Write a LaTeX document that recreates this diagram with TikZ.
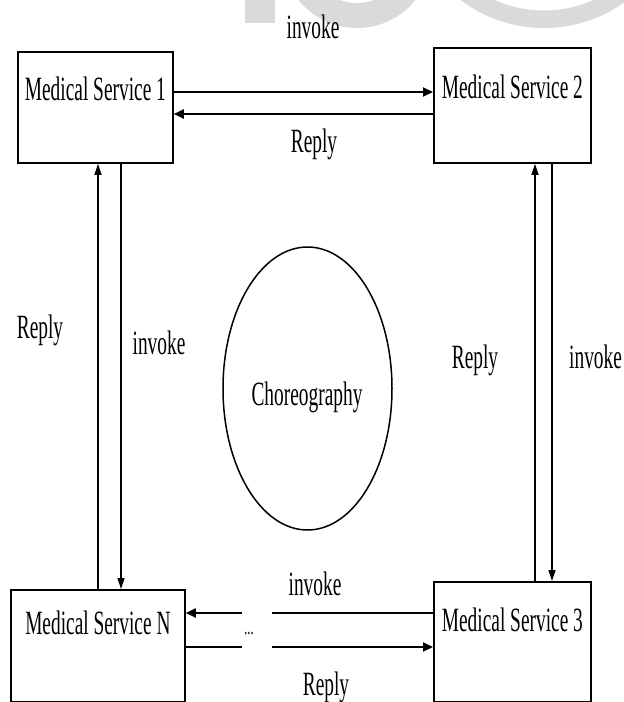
\documentclass[tikz,border=0pt]{standalone}
\usepackage{fontspec}
\newfontfamily\cf[FakeStretch=0.57]{Liberation Serif}
\usetikzlibrary{arrows.meta}
\definecolor{wm}{HTML}{DADADA}
\begin{document}
\begin{tikzpicture}[x=1pt,y=-1pt,
  box/.style={draw, line width=1.8pt, inner sep=0pt, anchor=north west,
    font=\cf\fontsize{34}{40}\selectfont},
  harr/.style={line width=1.9pt, -{Triangle[length=10pt,width=9pt]}},
  hline/.style={line width=1.9pt},
  varr/.style={line width=1.3pt, -{Triangle[length=11pt,width=7pt]}},
  lbl/.style={font=\cf\fontsize{34}{40}\selectfont, anchor=base, inner sep=0pt}
]
\useasboundingbox (0,0) rectangle (624,702);
% watermark
\begin{scope}
\clip (0,0) rectangle (624,702);
\fill[wm] (245,0) rectangle (275,23);
\fill[wm, even odd rule] (357,-47) circle (75) (357,-47) circle (50);
\fill[wm, even odd rule] (544,-110.5) circle (138.5) (544,-110.5) circle (121);
\end{scope}
% boxes
\node[box, minimum width=155pt, text height=49pt, text depth=62pt] (ms1) at (17,51) {Medical Service 1};
\node[box, minimum width=157pt, text height=51pt, text depth=64pt] (ms2) at (433,47) {Medical Service 2};
\node[box, minimum width=174pt, text height=45pt, text depth=67pt] (msn) at (10,589) {Medical Service N};
\node[box, minimum width=157pt, text height=50pt, text depth=70pt] (ms3) at (433,581) {Medical Service 3};
% choreography
\draw[line width=1.5pt] (307.5,388.5) ellipse (84.5 and 141.5);
\node[lbl] (chor) at (307,405) {Choreography};
% helper coordinates
\coordinate (y92) at (0,92);
\coordinate (y114) at (0,114);
\coordinate (y613) at (0,613);
\coordinate (y647) at (0,647);
\coordinate (x98) at (98,0);
\coordinate (x121) at (121,0);
\coordinate (x535) at (535,0);
\coordinate (x552) at (552,0);
\coordinate (g1a) at (272,613);
\coordinate (g1b) at (242,613);
\coordinate (g2a) at (242,647);
\coordinate (g2b) at (272,647);
% top arrows
\draw[harr] (ms1.east |- y92) -- (ms2.west |- y92);
\draw[harr] (ms2.west |- y114) -- (ms1.east |- y114);
% left vertical arrows
\draw[varr] (msn.north -| x98) -- (ms1.south -| x98);
\draw[varr] (ms1.south -| x121) -- (msn.north -| x121);
% right vertical arrows
\draw[varr] (ms3.north -| x535) -- (ms2.south -| x535);
\draw[varr] (ms2.south -| x552) -- (ms3.north -| x552);
% bottom arrows with gap
\draw[hline] (ms3.west |- y613) -- (g1a);
\draw[harr] (g1b) -- (msn.east |- y613);
\draw[hline] (msn.east |- y647) -- (g2a);
\draw[harr] (g2b) -- (ms3.west |- y647);
% labels
\node[lbl] (l1) at (313,38) {invoke};
\node[lbl] (l2) at (314,152) {Reply};
\node[lbl] (l3) at (40,338) {Reply};
\node[lbl] (l4) at (159,354) {invoke};
\node[lbl] (l5) at (475,368) {Reply};
\node[lbl, anchor=base west] (l6) at (569,368) {invoke};
\node[lbl] (l7) at (315,595) {invoke};
\node[lbl] (l8) at (326,695) {Reply};
\node[lbl, font=\cf\fontsize{22}{24}\selectfont] (dots) at (249,634) {...};
\end{tikzpicture}
\end{document}
